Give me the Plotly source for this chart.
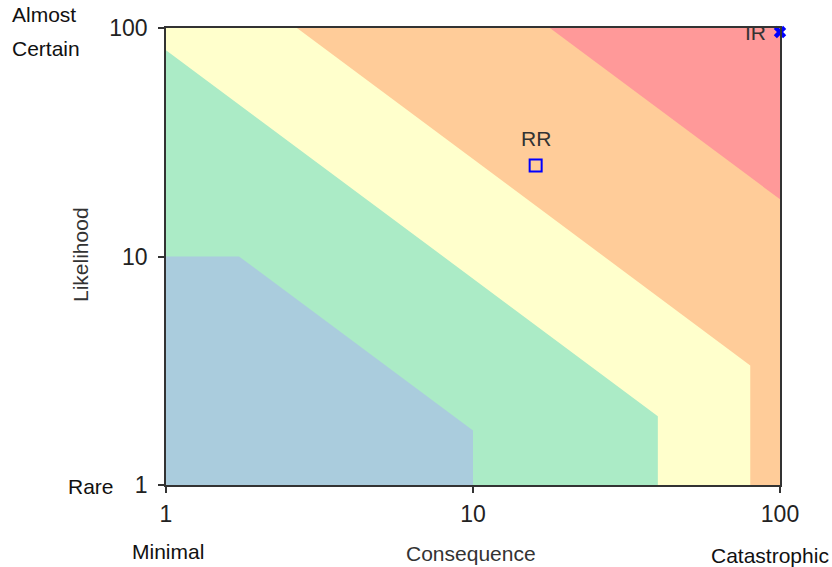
import math
import plotly.graph_objects as go

# Risk zones, drawn from highest to lowest; each zone is bounded by
# likelihood * consequence <= limit and by caps on each axis.
zone_names = ["Extreme", "High", "Medium", "Low", "Very low"]
zone_colors = ["#FF9999", "#FFCC99", "#FFFFCC", "#ABEBC6", "#AACCDD"]
zone_limits = [10000, 1780, 267, 80, 17.3]
zone_x_caps = [100, 100, 80, 40, 10]
zone_y_caps = [100, 100, 100, 100, 10]

# Assessed risks: inherent (IR) and residual (RR)
risk_labels = ["IR", "RR"]
risk_consequence = [100, 16]
risk_likelihood = [96, 25]
risk_symbols = ["x", "square-open"]

tick_vals = [1, 10, 100]
tick_text = ["1", "10", "100"]


def zone_polygon(limit, x_cap, y_cap):
    y_top = min(y_cap, limit)
    x_right = min(x_cap, limit)
    xs = [1, 1, limit / y_top, x_right, x_right, 1]
    ys = [1, y_top, y_top, limit / x_right, 1, 1]
    return xs, ys


fig = go.Figure()
for name, color, lim, cx, cy in zip(zone_names, zone_colors, zone_limits,
                                    zone_x_caps, zone_y_caps):
    xs, ys = zone_polygon(lim, cx, cy)
    fig.add_trace(go.Scatter(x=xs, y=ys, fill="toself", fillcolor=color,
                             mode="lines", line=dict(width=0, color=color),
                             name=name, hoverinfo="skip"))

# Risk markers
fig.add_trace(go.Scatter(
    x=[risk_consequence[0]], y=[risk_likelihood[0]], mode="markers",
    marker=dict(symbol=risk_symbols[0], size=11, color="#0000FF",
                line=dict(width=0)),
    cliponaxis=False, name=risk_labels[0]))
fig.add_trace(go.Scatter(
    x=[risk_consequence[1]], y=[risk_likelihood[1]], mode="markers",
    marker=dict(symbol=risk_symbols[1], size=12, color="#0000FF",
                line=dict(width=2, color="#0000FF")),
    cliponaxis=False, name=risk_labels[1]))

axis_common = dict(
    type="log", range=[0, 2], tickvals=tick_vals, ticktext=tick_text,
    showgrid=False, zeroline=False, showline=True, linecolor="#333333",
    linewidth=1.5, mirror=True, ticks="outside", ticklen=6,
    tickcolor="#333333", tickwidth=1.5,
    tickfont=dict(family="Arial", size=23, color="#222222"),
)

fig.update_layout(
    width=832, height=567,
    margin=dict(l=166, r=52, t=28, b=82),
    paper_bgcolor="white", plot_bgcolor="white",
    showlegend=False,
    xaxis=dict(**axis_common, ticklabelstandoff=2),
    yaxis=dict(**axis_common, ticklabelstandoff=6),
)

# Plot area in pixels: left 166, right 780, top 28, bottom 485
W, H = 614.0, 457.0
def px(x):
    return (x - 166) / W
def py(y):
    return (485 - y) / H

label_font = dict(family="Arial", size=21, color="#111111")
title_font = dict(family="Arial", size=21, color="#333333")
annotations = [
    dict(text="Almost", x=px(10), y=py(15), xanchor="left", yanchor="middle"),
    dict(text="Certain", x=px(10), y=py(49), xanchor="left", yanchor="middle"),
    dict(text="Rare", x=px(66), y=py(487), xanchor="left", yanchor="middle"),
    dict(text="Minimal", x=px(168), y=py(551), xanchor="center", yanchor="middle"),
    dict(text="Catastrophic", x=px(770), y=py(555), xanchor="center", yanchor="middle"),
    dict(text="Consequence", x=px(471), y=py(553), xanchor="center", yanchor="middle",
         font=title_font),
    dict(text="Likelihood", x=px(80), y=py(255), xanchor="center", yanchor="middle",
         textangle=-90, font=title_font),
]
for a in annotations:
    a.setdefault("font", label_font)
    a.update(xref="paper", yref="paper", showarrow=False)

# Labels next to the risk markers (log axes take log10 positions)
risk_font = dict(family="Arial", size=21, color="#333333")
annotations.append(dict(text=risk_labels[0],
                        x=math.log10(risk_consequence[0]),
                        y=math.log10(risk_likelihood[0]),
                        xref="x", yref="y", showarrow=False, font=risk_font,
                        xanchor="right", yanchor="middle", xshift=-12))
annotations.append(dict(text=risk_labels[1],
                        x=math.log10(risk_consequence[1]),
                        y=math.log10(risk_likelihood[1]),
                        xref="x", yref="y", showarrow=False, font=risk_font,
                        xanchor="center", yanchor="bottom", yshift=14))
fig.update_layout(annotations=annotations)

fig.write_html("out.html")
